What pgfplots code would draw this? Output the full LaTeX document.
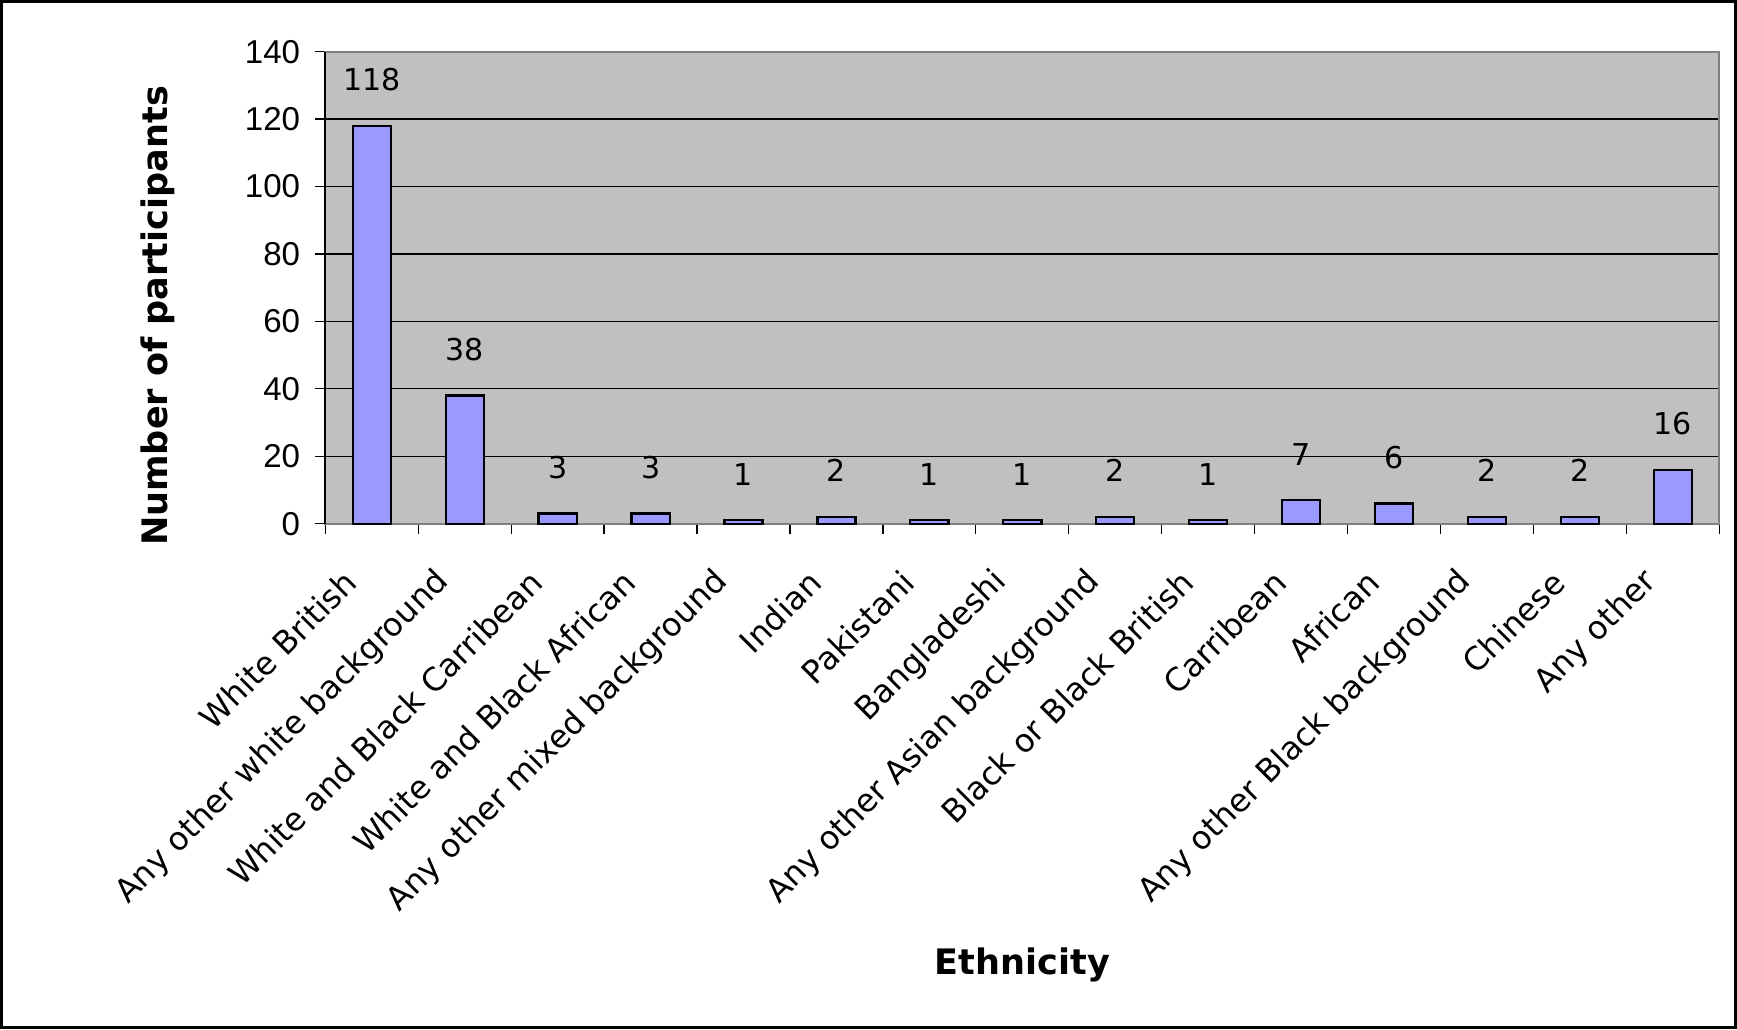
\documentclass[border=0pt]{standalone}
\usepackage{fontspec}
\setmainfont{DejaVu Sans}
\newfontfamily\arialfont{Liberation Sans}
\usepackage{pgfplots}
\pgfplotsset{compat=1.18}
\definecolor{barblue}{HTML}{9999FF}
\definecolor{plotbg}{HTML}{C0C0C0}
\definecolor{bordergray}{HTML}{808080}
\begin{document}
\begin{tikzpicture}
\begin{axis}[
  scale only axis,
  width=695.5pt, height=235.5pt,
  xmin=-0.5, xmax=14.5,
  ymin=0, ymax=140,
  ytick={0,20,...,140},
  xtick={0,...,14},
  minor xtick={-0.5,0.5,...,14.5},
  major x tick style={draw=none},
  minor tick length=5pt,
  major tick length=5pt,
  tick align=outside,
  tick style={black, line width=0.6pt},
  xtick pos=bottom, ytick pos=left,
  axis background/.style={fill=plotbg},
  axis line style={bordergray, line width=1pt},
  ymajorgrids,
  major grid style={black, line width=0.6pt},
  /pgf/number format/assume math mode=true,
  yticklabel style={font=\arialfont\fontsize{16.5}{19}\selectfont, anchor=east, xshift=-4pt},
  xticklabels={White British, Any other white background, White and Black Carribean, White and Black African, Any other mixed background, Indian, Pakistani, Bangladeshi, Any other Asian background, Black or Black British, Carribean, African, Any other Black background, Chinese, Any other},
  xticklabel style={font=\fontsize{16}{19}\selectfont, xshift=-8pt, yshift=-19pt, rotate=45, anchor=east},
  ylabel={Number of participants},
  ylabel style={font=\bfseries\fontsize{17.5}{21}\selectfont, at={(axis description cs:-0.12,0.44)}, anchor=center, rotate=0},
  xlabel={Ethnicity},
  xlabel style={font=\bfseries\fontsize{17.5}{21}\selectfont, at={(axis description cs:0.5,0)}, yshift=-220pt, anchor=center},
  nodes near coords,
  every node near coord/.append style={font=\fontsize{15}{18}\selectfont, anchor=base, yshift=17.5pt},
  clip=false,
]
\addplot[ybar, bar width=19pt, fill=barblue, draw=black, line width=1.1pt] coordinates {
(0,118) (1,38) (2,3) (3,3) (4,1) (5,2) (6,1) (7,1) (8,2) (9,1) (10,7) (11,6) (12,2) (13,2) (14,16)
};
\draw[black, line width=1pt] (axis cs:-0.5,0) -- (axis cs:-0.5,140);
\end{axis}
\draw[line width=1.5pt] ([xshift=-161.5pt,yshift=-251.5pt]current axis.south west) rectangle ([xshift=8pt,yshift=25pt]current axis.north east);
\end{tikzpicture}
\end{document}
